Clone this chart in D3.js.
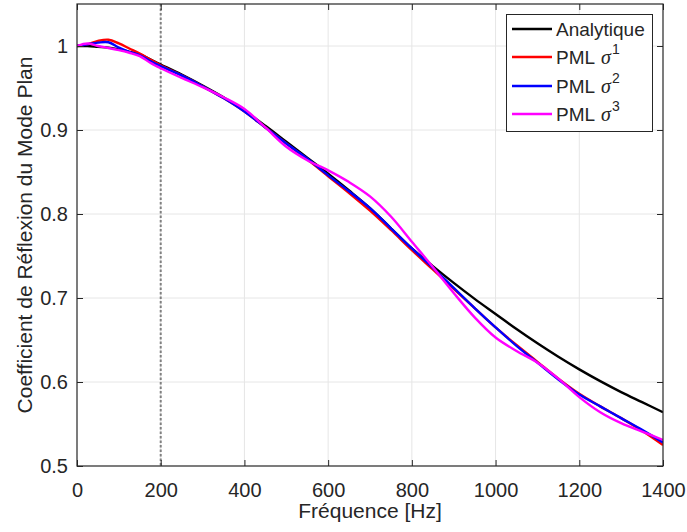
<!DOCTYPE html>
<html>
<head>
<meta charset="utf-8">
<script src="https://cdn.jsdelivr.net/npm/d3@7"></script>
<style>
  html, body { margin: 0; padding: 0; background: #fff; }
  svg { display: block; }
  text { font-family: "Liberation Sans", Arial, Helvetica, sans-serif; fill: #262626; }
</style>
</head>
<body>
<svg id="chart" width="687" height="532"></svg>
<script>
// ---- data ----
const freq = [0,25,50,75,100,125,150,175,200,250,300,350,400,450,500,550,600,650,700,750,800,850,900,950,1000,1050,1100,1150,1200,1250,1300,1350,1400];
const analytique = [1.000,1.000,0.999,0.998,0.996,0.993,0.990,0.984,0.978,0.966,0.953,0.939,0.923,0.905,0.886,0.867,0.848,0.828,0.807,0.783,0.759,0.738,0.718,0.699,0.681,0.663,0.646,0.630,0.615,0.601,0.588,0.576,0.564];
const pml1 = [1.000,1.002,1.006,1.0075,1.003,0.997,0.991,0.984,0.977,0.965,0.952,0.938,0.922,0.903,0.884,0.865,0.845,0.825,0.804,0.781,0.757,0.734,0.711,0.688,0.665,0.644,0.624,0.604,0.586,0.571,0.557,0.542,0.525];
const pml2 = [1.000,1.002,1.004,1.0045,0.998,0.993,0.989,0.982,0.976,0.965,0.952,0.938,0.922,0.903,0.884,0.866,0.846,0.827,0.807,0.783,0.759,0.736,0.712,0.688,0.665,0.643,0.623,0.603,0.585,0.571,0.557,0.543,0.528];
const pml3 = [1.000,1.003,1.000,0.9976,0.995,0.992,0.988,0.980,0.9735,0.962,0.951,0.939,0.925,0.903,0.880,0.864,0.852,0.838,0.821,0.797,0.767,0.737,0.706,0.677,0.653,0.637,0.623,0.604,0.582,0.564,0.551,0.541,0.531];
const xTicks = [0,200,400,600,800,1000,1200,1400];
const yTicks = [0.5,0.6,0.7,0.8,0.9,1];
const seriesNames = ["Analytique","PML","PML","PML"];
const seriesExp = [null,"1","2","3"];
const seriesColors = ["#000000","#ff0000","#0000ff","#ff00ff"];
const markerFreq = 200;
const xLabel = "Fréquence [Hz]";
const yLabel = "Coefficient de Réflexion du Mode Plan";

// ---- layout ----
const L = 77, R = 663, T = 4, B = 466;
const svg = d3.select("#chart");
const x = d3.scaleLinear().domain([0,1400]).range([L,R]);
const y = d3.scaleLinear().domain([0.5,1.05]).range([B,T]);
const axisColor = "#262626";

// grid
const grid = svg.append("g");
grid.selectAll("line.gx").data(xTicks.slice(1,-1)).enter().append("line")
  .attr("x1", d=>x(d)).attr("x2", d=>x(d)).attr("y1", T).attr("y2", B)
  .attr("stroke", "#e6e6e6").attr("stroke-width", 1);
grid.selectAll("line.gy").data(yTicks.slice(1)).enter().append("line")
  .attr("x1", L).attr("x2", R).attr("y1", d=>y(d)).attr("y2", d=>y(d))
  .attr("stroke", "#e6e6e6").attr("stroke-width", 1);

// dotted marker line
svg.append("line")
  .attr("x1", x(markerFreq)).attr("x2", x(markerFreq)).attr("y1", T).attr("y2", B)
  .attr("stroke", "#808080").attr("stroke-width", 2).attr("stroke-dasharray", "2.5,2");

// series
const all = [analytique, pml1, pml2, pml3];
const line = d3.line().x((d,i)=>x(freq[i])).y(d=>y(d)).curve(d3.curveCatmullRom.alpha(0.5));
const plot = svg.append("g");
plot.append("clipPath").attr("id","clip").append("rect").attr("x",L).attr("y",T).attr("width",R-L).attr("height",B-T);
[0,1,2,3].forEach(k => {
  plot.append("path").datum(all[k])
    .attr("d", line)
    .attr("fill","none")
    .attr("stroke", seriesColors[k])
    .attr("stroke-width", 2.4)
    .attr("clip-path","url(#clip)");
});

// axes (ticks inward)
const fs = 20;
const xAxis = d3.axisBottom(x).tickValues(xTicks).tickSize(-6).tickPadding(17).tickFormat(d3.format("d"));
const gx = svg.append("g").attr("transform", `translate(0,${B})`).call(xAxis);
const xAxisTop = d3.axisTop(x).tickValues(xTicks).tickSize(-6).tickFormat("");
const gxt = svg.append("g").attr("transform", `translate(0,${T})`).call(xAxisTop);
const yAxis = d3.axisLeft(y).tickValues(yTicks).tickSize(-6).tickPadding(9).tickFormat(d => d===1 ? "1" : d3.format(".1f")(d));
const gy = svg.append("g").attr("transform", `translate(${L},0)`).call(yAxis);
const yAxisR = d3.axisRight(y).tickValues(yTicks).tickSize(-6).tickFormat("");
const gyr = svg.append("g").attr("transform", `translate(${R},0)`).call(yAxisR);
[gx,gxt,gy,gyr].forEach(g => {
  g.select(".domain").remove();
  g.selectAll(".tick line").attr("stroke", axisColor).attr("stroke-width", 1);
  g.selectAll(".tick text").attr("font-size", fs).attr("fill", axisColor)
    .attr("font-family", '"Liberation Sans", Arial, Helvetica, sans-serif');
});

// frame
svg.append("rect").attr("x",L).attr("y",T).attr("width",R-L).attr("height",B-T)
  .attr("fill","none").attr("stroke",axisColor).attr("stroke-width",1.2);

// axis labels
svg.append("text").attr("x",(L+R)/2).attr("y",518).attr("text-anchor","middle")
  .attr("font-size",21).text(xLabel);
svg.append("text").attr("transform",`translate(32,${(T+B)/2}) rotate(-90)`).attr("text-anchor","middle")
  .attr("font-size",21).text(yLabel);

// legend
const lg = svg.append("g");
lg.append("rect").attr("x",506.5).attr("y",14.5).attr("width",146).attr("height",117)
  .attr("fill","#fff").attr("stroke",axisColor).attr("stroke-width",1);
const rowY = [29, 57, 86, 114];
seriesNames.forEach((name,k) => {
  lg.append("line").attr("x1",512).attr("x2",552).attr("y1",rowY[k]).attr("y2",rowY[k])
    .attr("stroke",seriesColors[k]).attr("stroke-width",2.4);
  const t = lg.append("text").attr("x",556).attr("y",rowY[k]+7).attr("font-size",19);
  t.append("tspan").text(name);
  if (seriesExp[k]) {
    t.append("tspan").attr("dx",6).attr("font-family",'"Liberation Serif","Times New Roman",serif')
      .attr("font-style","italic").attr("font-size",20).text("σ");
    t.append("tspan").attr("dy",-10).attr("dx",1).attr("font-size",14).text(seriesExp[k]);
  }
});
</script>
</body>
</html>
